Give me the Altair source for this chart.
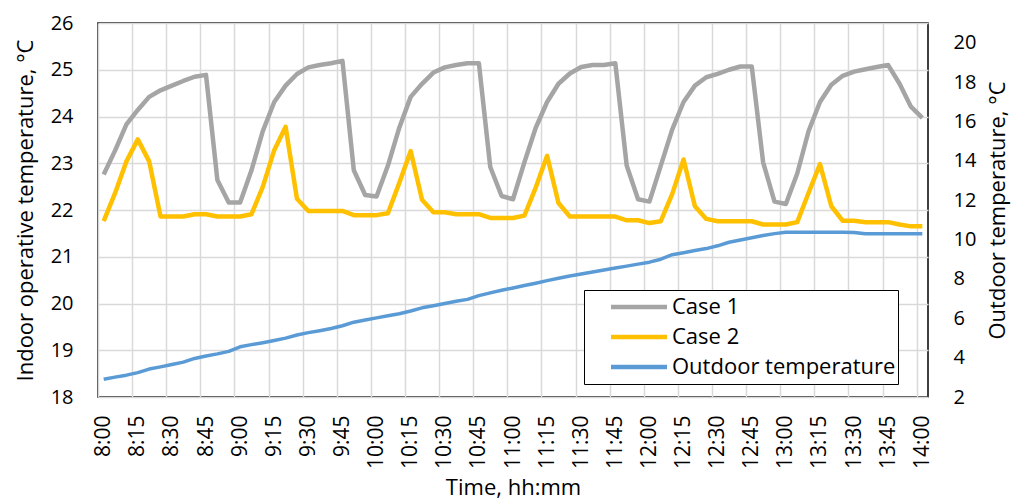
import altair as alt
import pandas as pd

# ---- data (5-minute samples, 8:00 .. 14:00) ----
tick_labels = ["8:00", "8:15", "8:30", "8:45", "9:00", "9:15", "9:30", "9:45",
               "10:00", "10:15", "10:30", "10:45", "11:00", "11:15", "11:30", "11:45",
               "12:00", "12:15", "12:30", "12:45", "13:00", "13:15", "13:30", "13:45",
               "14:00"]

case1 = [22.76, 23.27, 23.83, 24.14, 24.42, 24.56, 24.66, 24.76, 24.85, 24.89,
         22.64, 22.16, 22.16, 22.85, 23.69, 24.31, 24.66, 24.91, 25.05, 25.10,
         25.14, 25.19, 22.85, 22.32, 22.29, 22.95, 23.76, 24.42, 24.70, 24.94,
         25.05, 25.10, 25.14, 25.14, 22.92, 22.30, 22.23, 23.02, 23.76, 24.31,
         24.70, 24.92, 25.06, 25.10, 25.10, 25.14, 22.95, 22.23, 22.18, 22.95,
         23.72, 24.31, 24.66, 24.84, 24.91, 25.00, 25.07, 25.07, 23.02, 22.18,
         22.13, 22.78, 23.69, 24.31, 24.68, 24.87, 24.96, 25.01, 25.06, 25.10,
         24.70, 24.21, 23.97]

case2 = [21.76, 22.36, 23.04, 23.51, 23.04, 21.86, 21.86, 21.86, 21.91, 21.91,
         21.86, 21.86, 21.86, 21.91, 22.50, 23.28, 23.78, 22.24, 21.98, 21.98,
         21.98, 21.98, 21.89, 21.89, 21.89, 21.93, 22.58, 23.26, 22.22, 21.95,
         21.95, 21.91, 21.91, 21.91, 21.83, 21.83, 21.83, 21.88, 22.48, 23.16,
         22.15, 21.86, 21.86, 21.86, 21.86, 21.86, 21.78, 21.78, 21.72, 21.76,
         22.34, 23.08, 22.08, 21.81, 21.76, 21.76, 21.76, 21.76, 21.69, 21.69,
         21.69, 21.74, 22.37, 22.98, 22.08, 21.77, 21.77, 21.74, 21.74, 21.74,
         21.69, 21.65, 21.65]

outdoor = [2.90, 3.01, 3.11, 3.24, 3.42, 3.53, 3.65, 3.77, 3.96, 4.08,
           4.19, 4.32, 4.55, 4.66, 4.76, 4.87, 4.99, 5.15, 5.27, 5.37,
           5.48, 5.62, 5.80, 5.91, 6.02, 6.13, 6.23, 6.37, 6.53, 6.64,
           6.75, 6.86, 6.96, 7.15, 7.29, 7.42, 7.54, 7.66, 7.78, 7.91,
           8.03, 8.15, 8.25, 8.35, 8.45, 8.55, 8.65, 8.75, 8.85, 9.00,
           9.23, 9.33, 9.44, 9.54, 9.68, 9.86, 9.98, 10.09, 10.20, 10.30,
           10.37, 10.37, 10.37, 10.37, 10.37, 10.37, 10.36, 10.29, 10.29, 10.29,
           10.29, 10.29, 10.29]

series_names = ["Case 1", "Case 2", "Outdoor temperature"]
series_colors = ["#A5A5A5", "#FFC000", "#5B9BD5"]

left_ticks = [18, 19, 20, 21, 22, 23, 24, 25, 26]
right_ticks = [2, 4, 6, 8, 10, 12, 14, 16, 18, 20]

# ---- tables ----
n = len(case1)
idx = list(range(n))
indoor_df = pd.DataFrame({
    "i": idx + idx,
    "T": case1 + case2,
    "series": [series_names[0]] * n + [series_names[1]] * n,
})
outdoor_df = pd.DataFrame({"i": idx, "T": outdoor, "series": series_names[2]})

W, H = 830, 374
FONT = "Open Sans"
step = 3  # samples per labelled interval (15 min)
boundaries = [k * step - 0.5 for k in range(len(tick_labels))]
label_js = "[" + ",".join("'" + t + "'" for t in tick_labels) + "]"
half_cat = W / n / 2

x_enc = alt.X(
    "i:Q",
    scale=alt.Scale(domain=[-0.5, n - 0.5], nice=False, zero=False),
    axis=alt.Axis(
        values=boundaries,
        labelExpr=label_js + "[round((datum.value + 0.5) / " + str(step) + ")]",
        labelOffset=half_cat,
        labelAngle=270,
        labelPadding=18,
        labelOverlap=False,
        labelFlush=False,
        labelFontSize=21,
        grid=True,
        gridColor="#D9D9D9",
        gridWidth=1.5,
        ticks=False,
        tickSize=0,
        domain=False,
        title="Time, hh:mm",
        titlePadding=9,
    ),
)

color_enc = alt.Color(
    "series:N",
    scale=alt.Scale(domain=series_names, range=series_colors),
    legend=alt.Legend(
        title=None,
        orient="none",
        legendX=486,
        legendY=267,
        symbolType="stroke",
        symbolSize=3136,
        symbolStrokeWidth=4.5,
        clipHeight=30,
        rowPadding=0,
        padding=2,
        labelOffset=2.5,
        symbolOffset=22.5,
        strokeColor="black",
        fillColor="white",
        labelFont=FONT,
        labelFontSize=22,
        labelColor="black",
        labelLimit=500,
    ),
)

indoor = alt.Chart(indoor_df).mark_line(strokeWidth=4.5, strokeJoin="round").encode(
    x=x_enc,
    y=alt.Y(
        "T:Q",
        scale=alt.Scale(domain=[18, 26], nice=False, zero=False),
        axis=alt.Axis(
            values=left_ticks,
            grid=True,
            gridColor="#D9D9D9",
            gridWidth=1.5,
            ticks=False,
            tickSize=0,
            domain=False,
            labelPadding=25,
            title="Indoor operative temperature, °C",
            titlePadding=13,
        ),
    ),
    color=color_enc,
)

outside = alt.Chart(outdoor_df).mark_line(strokeWidth=3.5, strokeJoin="round").encode(
    x=x_enc,
    y=alt.Y(
        "T:Q",
        scale=alt.Scale(domain=[2, 21], nice=False, zero=False),
        axis=alt.Axis(
            orient="right",
            values=right_ticks,
            grid=False,
            ticks=False,
            tickSize=0,
            domain=False,
            labelPadding=25,
            title="Outdoor temperature, °C",
            titleAngle=270,
            titleBaseline="top",
            titlePadding=12,
        ),
    ),
    color=color_enc,
)

chart = (
    alt.layer(indoor, outside)
    .resolve_scale(y="independent")
    .properties(
        width=W,
        height=H,
        background="white",
        padding={"left": 98, "top": 23, "right": 1027 - 98 - W, "bottom": 504 - 23 - H},
        autosize=alt.AutoSizeParams(type="none"),
    )
    .configure_view(stroke="black", strokeWidth=1.5)
    .configure_axis(
        labelFont=FONT,
        labelFontSize=20,
        labelColor="black",
        titleFont=FONT,
        titleFontSize=22,
        titleFontWeight="normal",
        titleColor="black",
    )
)

chart.save("out.html", embed_options={"renderer": "svg", "actions": False})
